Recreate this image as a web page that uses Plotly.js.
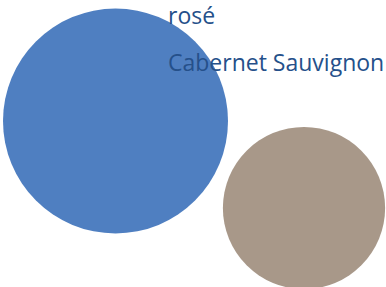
<!DOCTYPE html>
<html><head><meta charset="utf-8">
<script src="https://cdn.plot.ly/plotly-3.0.1.min.js"></script>
<style>html,body{margin:0;padding:0;background:#fff}</style>
</head><body><div id="chart" style="width:386px;height:287px"></div>
<script>
const categories = ["rosé", "Cabernet Sauvignon"];
const values = [50, 26];
const xPos = [115.5, 304];
const yPos = [121, 208];
const colors = ["#4f7fc1", "#a89889"];

const traces = categories.map((c, i) => ({
  type: "scatter", mode: "markers", name: c,
  x: [xPos[i]], y: [yPos[i]],
  marker: {size: [values[i]], sizemode: "area", sizeref: 2 * 50 / (225 * 225),
           color: colors[i], opacity: 1, line: {width: 0}},
  hoverinfo: "name", showlegend: false
}));

const annotations = categories.map((c, i) => ({
  text: c, xref: "paper", yref: "paper", x: 166 / 386, y: 1 - (15 + 47 * i) / 287,
  xanchor: "left", yanchor: "middle", showarrow: false,
  font: {family: "Open Sans", size: 23, color: "#25508a"}
}));

Plotly.newPlot("chart", traces, {
  width: 386, height: 287, margin: {l: 0, r: 0, t: 0, b: 0},
  paper_bgcolor: "#fff", plot_bgcolor: "#fff",
  xaxis: {range: [0, 386], visible: false, fixedrange: true},
  yaxis: {range: [287, 0], visible: false, fixedrange: true},
  annotations: annotations
}, {displayModeBar: false, staticPlot: true});
</script></body></html>
